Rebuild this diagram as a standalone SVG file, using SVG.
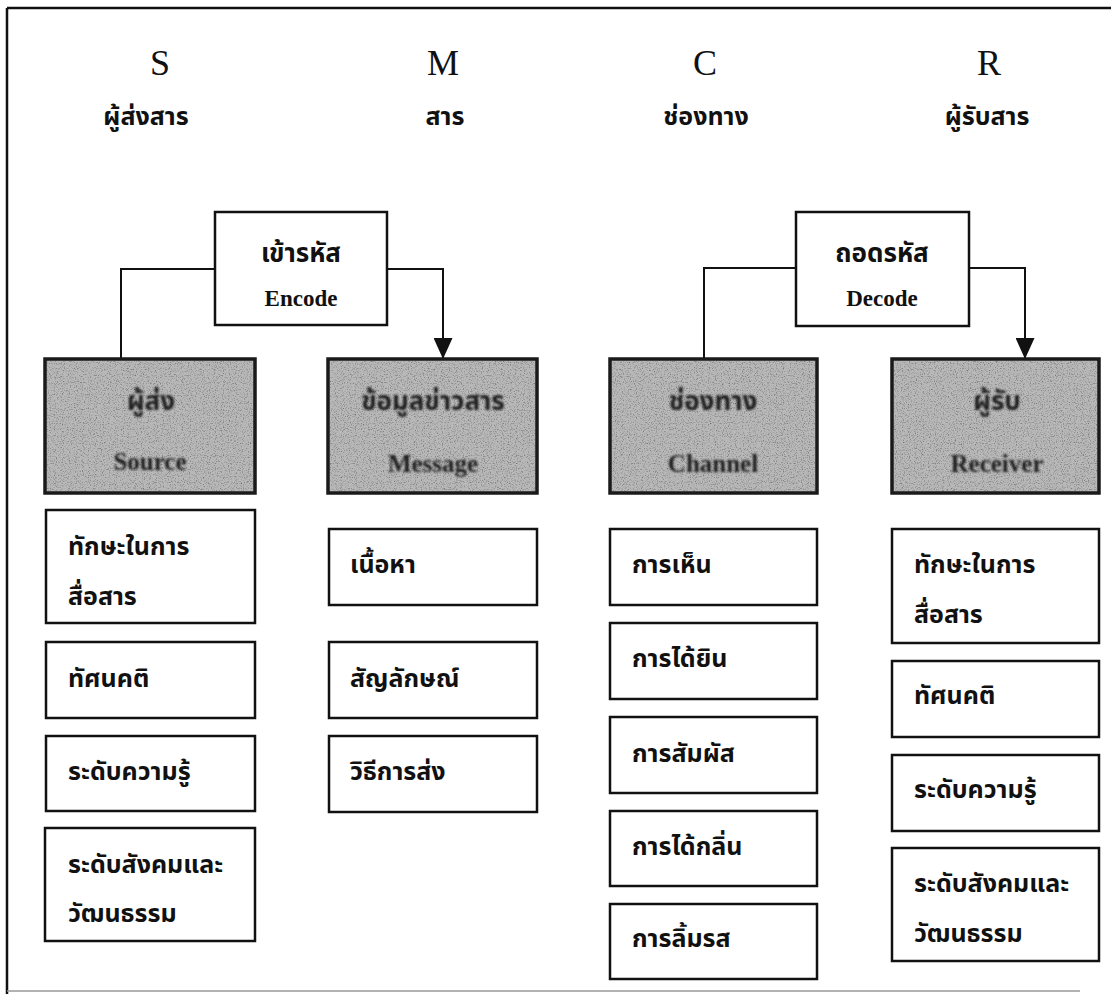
<svg xmlns="http://www.w3.org/2000/svg" width="1111" height="994" viewBox="0 0 1111 994">
<defs>
<style>
.box{fill:#fff;stroke:#111;stroke-width:2.5}
.shade{fill:#b8b8b8;stroke:#1a1a1a;stroke-width:3.5}
.conn{fill:none;stroke:#111;stroke-width:2}
.hdr{font-family:"Liberation Serif",serif;font-size:36px;fill:#111;text-anchor:middle}
.th{font-family:"Noto Sans Thai","Noto Sans","DejaVu Sans",sans-serif;font-weight:bold;fill:#111}
.sub{font-size:25px;text-anchor:middle}
.item{font-size:25px}
.code{font-family:"Liberation Serif",serif;font-weight:bold;font-size:23px;fill:#111;text-anchor:middle}
.stxt{font-weight:bold;fill:#1c1c1c;text-anchor:middle}
.sth{font-family:"Noto Sans Thai","Noto Sans",sans-serif;font-size:26px}
.sen{font-family:"Liberation Serif",serif;font-size:25px}
</style>
<filter id="grain" x="0" y="0" width="1" height="1">
<feTurbulence type="fractalNoise" baseFrequency="0.85" numOctaves="2" seed="3" result="n"/>
<feColorMatrix in="n" type="matrix" values="0 0 0 0 0.15  0 0 0 0 0.15  0 0 0 0 0.15  0 0 0 -2.4 1.2" result="d"/>
<feComposite in="d" in2="SourceGraphic" operator="in"/>
</filter>
<filter id="soft"><feGaussianBlur stdDeviation="0.9"/></filter>
<marker id="arr" viewBox="0 0 21 19" refX="21" refY="9.5" markerWidth="21" markerHeight="19" markerUnits="userSpaceOnUse" orient="auto">
<path d="M0,0 L21,9.5 L0,19 Z" fill="#111"/>
</marker>
</defs>
<rect width="1111" height="994" fill="#fff"/>
<g id="frame" fill="none" stroke="#111">
<path d="M7,8 H1111" stroke-width="2.5"/>
<path d="M7,8 V994" stroke-width="2.5"/>
<path d="M7,991 H1080" stroke="#999" stroke-width="1.5"/>
</g>
<g id="headers">
<text class="hdr" x="160" y="75">S</text>
<text class="th sub" x="146" y="125">ผู้ส่งสาร</text>
<text class="hdr" x="443" y="75">M</text>
<text class="th sub" x="445" y="125">สาร</text>
<text class="hdr" x="705" y="75">C</text>
<text class="th sub" x="706" y="125">ช่องทาง</text>
<text class="hdr" x="989" y="75">R</text>
<text class="th sub" x="987" y="125">ผู้รับสาร</text>
</g>
<g id="connectors">
<path class="conn" d="M215,269 H121 V359"/>
<path class="conn" d="M387,269 H443 V359" marker-end="url(#arr)"/>
<path class="conn" d="M796,268 H704 V359"/>
<path class="conn" d="M969,268 H1025 V359" marker-end="url(#arr)"/>
</g>
<g id="encode">
<rect class="box" x="215" y="212" width="172" height="113"/>
<text class="th" x="301" y="262" font-size="26" text-anchor="middle">เข้ารหัส</text>
<text class="code" x="301" y="306">Encode</text>
</g>
<g id="decode">
<rect class="box" x="796" y="212" width="173" height="114"/>
<text class="th" x="882" y="262" font-size="26" text-anchor="middle">ถอดรหัส</text>
<text class="code" x="882" y="306">Decode</text>
</g>
<g id="source">
<rect class="shade" x="45" y="359" width="210" height="134"/>
<rect x="47" y="361" width="206" height="130" fill="#fff" filter="url(#grain)"/>
<g filter="url(#soft)"><text class="stxt sth" x="151" y="410">ผู้ส่ง</text><text class="stxt sen" x="150" y="470">Source</text></g>
</g>
<g id="message">
<rect class="shade" x="328" y="359" width="209" height="134"/>
<rect x="330" y="361" width="205" height="130" fill="#fff" filter="url(#grain)"/>
<g filter="url(#soft)"><text class="stxt sth" x="433" y="410">ข้อมูลข่าวสาร</text><text class="stxt sen" x="433" y="472">Message</text></g>
</g>
<g id="channel">
<rect class="shade" x="610" y="359" width="207" height="134"/>
<rect x="612" y="361" width="203" height="130" fill="#fff" filter="url(#grain)"/>
<g filter="url(#soft)"><text class="stxt sth" x="713" y="410">ช่องทาง</text><text class="stxt sen" x="713" y="472">Channel</text></g>
</g>
<g id="receiver">
<rect class="shade" x="892" y="359" width="207" height="134"/>
<rect x="894" y="361" width="203" height="130" fill="#fff" filter="url(#grain)"/>
<g filter="url(#soft)"><text class="stxt sth" x="997" y="410">ผู้รับ</text><text class="stxt sen" x="997" y="472">Receiver</text></g>
</g>
<g id="s1"><rect class="box" x="46" y="510" width="209" height="113"/><text class="th item" x="68" y="555">ทักษะในการ</text><text class="th item" x="68" y="605">สื่อสาร</text></g>
<g id="s2"><rect class="box" x="46" y="642" width="209" height="76"/><text class="th item" x="68" y="687">ทัศนคติ</text></g>
<g id="s3"><rect class="box" x="46" y="736" width="209" height="75"/><text class="th item" x="68" y="780">ระดับความรู้</text></g>
<g id="s4"><rect class="box" x="45" y="828" width="210" height="113"/><text class="th item" x="68" y="873">ระดับสังคมและ</text><text class="th item" x="68" y="922">วัฒนธรรม</text></g>
<g id="m1"><rect class="box" x="329" y="529" width="208" height="76"/><text class="th item" x="350" y="573">เนื้อหา</text></g>
<g id="m2"><rect class="box" x="329" y="642" width="208" height="76"/><text class="th item" x="350" y="687">สัญลักษณ์</text></g>
<g id="m3"><rect class="box" x="329" y="736" width="208" height="76"/><text class="th item" x="350" y="780">วิธีการส่ง</text></g>
<g id="c1"><rect class="box" x="610" y="529" width="207" height="76"/><text class="th item" x="632" y="573">การเห็น</text></g>
<g id="c2"><rect class="box" x="610" y="623" width="207" height="76"/><text class="th item" x="632" y="667">การได้ยิน</text></g>
<g id="c3"><rect class="box" x="610" y="717" width="207" height="76"/><text class="th item" x="632" y="762">การสัมผัส</text></g>
<g id="c4"><rect class="box" x="610" y="811" width="207" height="75"/><text class="th item" x="632" y="855">การได้กลิ่น</text></g>
<g id="c5"><rect class="box" x="610" y="904" width="207" height="75"/><text class="th item" x="632" y="947">การลิ้มรส</text></g>
<g id="r1"><rect class="box" x="892" y="529" width="207" height="114"/><text class="th item" x="914" y="573">ทักษะในการ</text><text class="th item" x="914" y="623">สื่อสาร</text></g>
<g id="r2"><rect class="box" x="892" y="661" width="207" height="76"/><text class="th item" x="914" y="704">ทัศนคติ</text></g>
<g id="r3"><rect class="box" x="892" y="755" width="207" height="76"/><text class="th item" x="914" y="798">ระดับความรู้</text></g>
<g id="r4"><rect class="box" x="892" y="848" width="207" height="113"/><text class="th item" x="914" y="892">ระดับสังคมและ</text><text class="th item" x="914" y="942">วัฒนธรรม</text></g>
</svg>
